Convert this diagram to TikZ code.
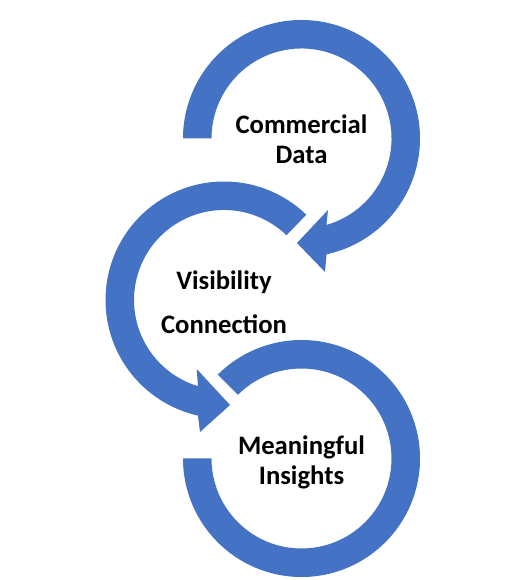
\documentclass[tikz,border=0pt]{standalone}
\usepackage{fontspec}
\setmainfont{Carlito}
\usepackage{tikz}
\definecolor{ringblue}{RGB}{68,114,196}
\tikzset{
  ring/.style = {fill=ringblue},
  ringtext/.style = {font=\bfseries\fontsize{20}{22.5}\selectfont, align=center, text=black, inner sep=0pt}
}

\begin{document}
\begin{tikzpicture}[x = 0.75pt, y = 0.75pt]
    \useasboundingbox (0,0) rectangle (526,580);
    \coordinate (topring) at (301.5,441.5);
    \coordinate (midring) at (224,280);
    \coordinate (lowring) at (301.5,121.5);
    % top ring, tail on the left, head below
    \begin{scope}[shift={(topring)}]
      \fill[ring] (180:118.5) arc[start angle=180, end angle=-77.8, radius=118.5]
        -- (23.5,-133.5) -- (-4.5,-104.5) -- (26.5,-71.5)
        -- (-73.9:90) arc[start angle=-73.9, end angle=180, radius=90] -- cycle;
    \end{scope}
    % middle ring
    \begin{scope}[shift={(midring)}]
      \fill[ring] (46:118.5) arc[start angle=46, end angle=257.3, radius=118.5]
        -- (-24,-132) -- (6,-105) -- (-27.3,-69)
        -- (253.2:90) arc[start angle=253.2, end angle=46, radius=90] -- cycle;
    \end{scope}
    % bottom ring, no head
    \begin{scope}[shift={(lowring)}]
      \fill[ring] (180:118.5) arc[start angle=180, end angle=495, radius=118.5]
        -- (135:90) arc[start angle=495, end angle=180, radius=90] -- cycle;
    \end{scope}
    \node[ringtext] (commercial) at ([yshift=-0.75pt]topring) {Commercial\\Data};
    \node[ringtext] (visibility) at ([yshift=-1.5pt]midring) {Visibility\\[10.5pt]Connection};
    \node[ringtext] (meaningful) at ([yshift=-3pt]lowring) {Meaningful\\Insights};
  \end{tikzpicture}
\end{document}
